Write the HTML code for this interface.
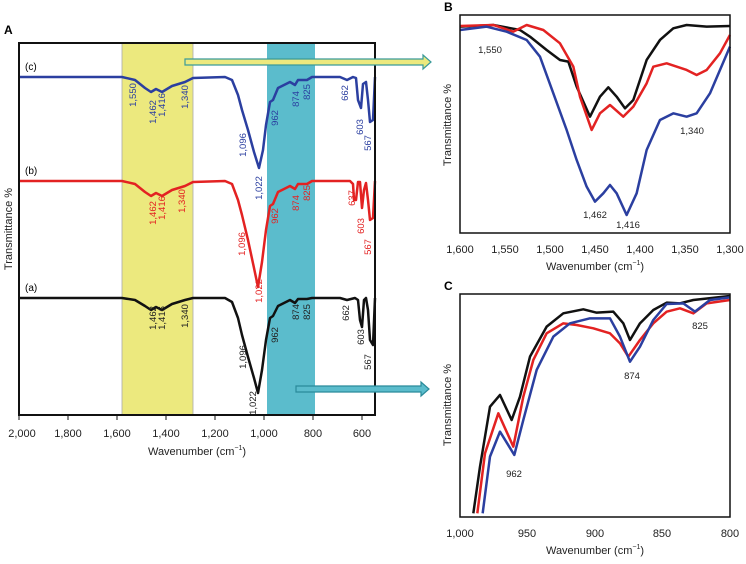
<!DOCTYPE html>
<html><head><style>
body{margin:0;background:#fff;}
svg{font-family:"Liberation Sans",sans-serif;}
</style></head><body>
<svg width="746" height="559" viewBox="0 0 746 559" xmlns="http://www.w3.org/2000/svg">
<rect width="746" height="559" fill="#fff"/>
<!-- Panel A -->
<text x="4" y="34" font-size="12" font-weight="bold">A</text>
<rect x="122" y="43" width="71" height="372" fill="#ece97e"/>
<rect x="267" y="43" width="48" height="372" fill="#5bbccc"/>
<line x1="122" y1="43" x2="122" y2="415" stroke="#aaa" stroke-width="0.8"/>
<line x1="193" y1="43" x2="193" y2="415" stroke="#aaa" stroke-width="0.8"/>
<g fill="none" stroke-width="2.5" stroke-linejoin="round">
<path stroke="#2b3fa0" d="M19,77 L122,77 L135,80 L145,88 L151,92 L156,89 L162,92 L172,86 L185,82 L193,78 L225,77 L232,80 L238,95 L242,110 L248,130 L254,152 L259,168 L263,150 L266,125 L270,102 L273,100 L278,88 L290,82 L295,85 L298,80 L307,80 L312,77 L340,77 L347,80 L353,77 L356,78 L358,100 L361,108 L363,84 L366,82 L368,100 L370,122 L373,120 L375,77"/>
<path stroke="#e32222" d="M19,181 L122,181 L135,184 L145,192 L151,196 L156,193 L162,196 L172,190 L185,186 L193,182 L225,181 L232,184 L238,200 L242,215 L248,240 L254,268 L258,287 L262,262 L266,230 L270,206 L273,204 L278,192 L290,186 L295,189 L298,184 L307,184 L312,181 L350,181 L353,184 L354,200 L356,200 L358,182 L360,182 L362,208 L364,190 L366,183 L368,200 L370,220 L373,218 L375,181"/>
<path stroke="#111" d="M19,298 L122,298 L135,300 L145,306 L151,310 L156,307 L162,310 L172,304 L185,300 L193,298 L225,298 L232,302 L238,318 L242,335 L248,357 L254,378 L258,393 L262,370 L266,340 L270,318 L273,316 L278,306 L290,300 L295,303 L298,299 L307,299 L312,298 L340,298 L347,300 L355,298 L358,300 L360,320 L362,327 L364,300 L366,298 L368,310 L370,340 L373,345 L375,298"/>
</g>
<rect x="19" y="43" width="356" height="372" fill="none" stroke="#111" stroke-width="2"/>
<!-- arrows -->
<path d="M185,59 L423,59 L423,55 L431,62 L423,69 L423,65 L185,65 Z" fill="#ece97e" stroke="#3a9a9a" stroke-width="1.2"/>
<path d="M296,386 L421,386 L421,382 L429,389 L421,396 L421,392 L296,392 Z" fill="#5bbccc" stroke="#2a8a9a" stroke-width="1.2"/>
<g font-size="10">
<text x="25" y="70">(c)</text><text x="25" y="174">(b)</text><text x="25" y="291">(a)</text>
</g>
<g font-size="9.5" text-anchor="middle">
<g fill="#2b3fa0">
<text transform="translate(136,95) rotate(-90)">1,550</text>
<text transform="translate(156,112) rotate(-90)">1,462</text>
<text transform="translate(165,105) rotate(-90)">1,416</text>
<text transform="translate(188,97) rotate(-90)">1,340</text>
<text transform="translate(246,145) rotate(-90)">1,096</text>
<text transform="translate(262,188) rotate(-90)">1,022</text>
<text transform="translate(278,118) rotate(-90)">962</text>
<text transform="translate(299,99) rotate(-90)">874</text>
<text transform="translate(310,92) rotate(-90)">825</text>
<text transform="translate(348,93) rotate(-90)">662</text>
<text transform="translate(363,127) rotate(-90)">603</text>
<text transform="translate(371,143) rotate(-90)">567</text>
</g>
<g fill="#e32222">
<text transform="translate(156,213) rotate(-90)">1,462</text>
<text transform="translate(165,208) rotate(-90)">1,416</text>
<text transform="translate(185,201) rotate(-90)">1,340</text>
<text transform="translate(245,244) rotate(-90)">1,096</text>
<text transform="translate(262,291) rotate(-90)">1,022</text>
<text transform="translate(278,216) rotate(-90)">962</text>
<text transform="translate(299,203) rotate(-90)">874</text>
<text transform="translate(310,193) rotate(-90)">825</text>
<text transform="translate(355,198) rotate(-90)">637</text>
<text transform="translate(364,226) rotate(-90)">603</text>
<text transform="translate(371,247) rotate(-90)">567</text>
</g>
<g fill="#222">
<text transform="translate(156,318) rotate(-90)">1,462</text>
<text transform="translate(165,318) rotate(-90)">1,416</text>
<text transform="translate(188,316) rotate(-90)">1,340</text>
<text transform="translate(246,357) rotate(-90)">1,096</text>
<text transform="translate(256,403) rotate(-90)">1,022</text>
<text transform="translate(278,335) rotate(-90)">962</text>
<text transform="translate(299,312) rotate(-90)">874</text>
<text transform="translate(310,312) rotate(-90)">825</text>
<text transform="translate(349,313) rotate(-90)">662</text>
<text transform="translate(364,337) rotate(-90)">603</text>
<text transform="translate(371,362) rotate(-90)">567</text>
</g>
</g>
<g stroke="#111" stroke-width="1">
<line x1="19" y1="415" x2="19" y2="420"/><line x1="68" y1="415" x2="68" y2="420"/><line x1="117" y1="415" x2="117" y2="420"/><line x1="166" y1="415" x2="166" y2="420"/><line x1="215" y1="415" x2="215" y2="420"/><line x1="264" y1="415" x2="264" y2="420"/><line x1="313" y1="415" x2="313" y2="420"/><line x1="362" y1="415" x2="362" y2="420"/>
</g>
<g font-size="11" text-anchor="middle" fill="#222">
<text x="22" y="437">2,000</text><text x="68" y="437">1,800</text><text x="117" y="437">1,600</text><text x="166" y="437">1,400</text><text x="215" y="437">1,200</text><text x="264" y="437">1,000</text><text x="313" y="437">800</text><text x="362" y="437">600</text>
<text x="197" y="455">Wavenumber (cm<tspan font-size="7" dy="-5">−1</tspan><tspan dy="5">)</tspan></text>
<text transform="translate(12,229) rotate(-90)">Transmittance %</text>
</g>
<!-- Panel B -->
<text x="444" y="11" font-size="12" font-weight="bold">B</text>
<g transform="translate(420,0) scale(0.3333)" fill="none" stroke-width="7.5" stroke-linejoin="round">
<path stroke="#111" d="M120,80 L220,75 L300,90 L330,110 L380,150 L420,180 L445,185 L470,260 L510,350 L540,290 L565,262 L590,290 L615,325 L640,300 L680,180 L720,120 L760,85 L800,75 L860,80 L930,78"/>
<path stroke="#e32222" d="M120,78 L220,75 L280,95 L320,75 L370,90 L420,130 L460,200 L480,290 L515,390 L540,340 L570,315 L610,350 L640,320 L680,250 L700,200 L740,190 L800,210 L830,225 L860,210 L900,160 L930,105"/>
<path stroke="#2b3fa0" d="M120,90 L200,80 L260,95 L320,120 L360,170 L400,280 L440,390 L470,480 L500,560 L525,605 L550,580 L570,555 L590,580 L620,645 L650,580 L680,450 L720,360 L760,340 L800,350 L830,340 L870,280 L930,140"/>
</g>
<rect x="460" y="15" width="270" height="218" fill="none" stroke="#111" stroke-width="1.5"/>
<g font-size="9.5" fill="#222" text-anchor="middle">
<text x="490" y="53">1,550</text><text x="595" y="218">1,462</text><text x="628" y="228">1,416</text><text x="692" y="134">1,340</text>
</g>
<g font-size="11" text-anchor="middle" fill="#222">
<text x="460" y="253">1,600</text><text x="505" y="253">1,550</text><text x="550" y="253">1,500</text><text x="595" y="253">1,450</text><text x="640" y="253">1,400</text><text x="685" y="253">1,350</text><text x="730" y="253">1,300</text>
<text x="595" y="270">Wavenumber (cm<tspan font-size="7" dy="-5">−1</tspan><tspan dy="5">)</tspan></text>
<text transform="translate(451,125) rotate(-90)">Transmittance %</text>
</g>
<!-- Panel C -->
<text x="444" y="290" font-size="12" font-weight="bold">C</text>
<g transform="translate(420,280) scale(0.3333)" fill="none" stroke-width="7.5" stroke-linejoin="round">
<path stroke="#111" d="M160,700 L180,560 L210,380 L240,345 L275,420 L300,350 L330,230 L380,140 L430,100 L490,88 L530,98 L580,95 L610,130 L630,180 L660,130 L700,90 L740,68 L780,70 L820,60 L930,48"/>
<path stroke="#e32222" d="M172,700 L195,520 L235,400 L280,500 L310,350 L340,240 L380,160 L430,130 L470,135 L520,145 L570,160 L600,190 L625,230 L660,180 L700,130 L740,95 L780,85 L820,100 L860,70 L930,60"/>
<path stroke="#2b3fa0" d="M188,700 L210,530 L240,455 L283,525 L310,420 L350,270 L400,170 L450,130 L510,115 L570,115 L600,170 L630,245 L660,200 L700,120 L740,72 L790,70 L825,95 L870,60 L930,52"/>
</g>
<rect x="460" y="294" width="270" height="223" fill="none" stroke="#111" stroke-width="1.5"/>
<g font-size="9.5" fill="#222" text-anchor="middle">
<text x="514" y="477">962</text><text x="632" y="379">874</text><text x="700" y="329">825</text>
</g>
<g font-size="11" text-anchor="middle" fill="#222">
<text x="460" y="537">1,000</text><text x="527" y="537">950</text><text x="595" y="537">900</text><text x="662" y="537">850</text><text x="730" y="537">800</text>
<text x="595" y="554">Wavenumber (cm<tspan font-size="7" dy="-5">−1</tspan><tspan dy="5">)</tspan></text>
<text transform="translate(451,405) rotate(-90)">Transmittance %</text>
</g>
</svg>
</body></html>
